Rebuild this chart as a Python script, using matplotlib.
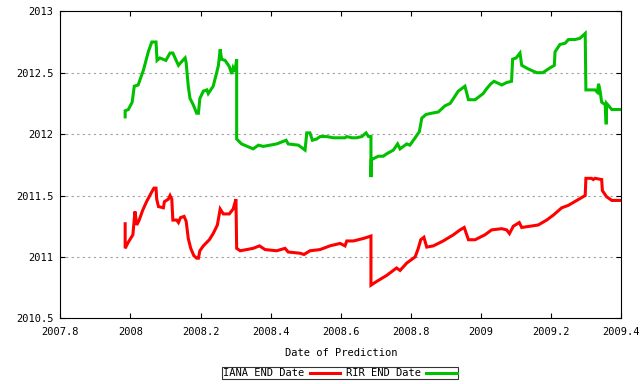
import numpy as np
import matplotlib as mpl
mpl.use('Agg')
import matplotlib.pyplot as plt
from matplotlib.lines import Line2D

# IANA END Date prediction (red)
iana_x = [2007.985, 2007.985, 2007.994, 2008.007, 2008.013, 2008.018, 2008.025, 2008.035,
          2008.046, 2008.061, 2008.067, 2008.073, 2008.075, 2008.080, 2008.094, 2008.097,
          2008.108, 2008.113, 2008.118, 2008.121, 2008.132, 2008.137, 2008.143, 2008.153,
          2008.159, 2008.165, 2008.172, 2008.181, 2008.189, 2008.194, 2008.198, 2008.208,
          2008.225, 2008.236, 2008.248, 2008.256, 2008.265, 2008.282, 2008.293, 2008.301,
          2008.303, 2008.313, 2008.350, 2008.368, 2008.384, 2008.417, 2008.441, 2008.450,
          2008.484, 2008.495, 2008.512, 2008.541, 2008.569, 2008.598, 2008.612, 2008.617,
          2008.636, 2008.664, 2008.686, 2008.686, 2008.702, 2008.731, 2008.759, 2008.769,
          2008.788, 2008.812, 2008.821, 2008.828, 2008.837, 2008.845, 2008.864, 2008.892,
          2008.921, 2008.940, 2008.952, 2008.964, 2008.983, 2009.011, 2009.030, 2009.059,
          2009.073, 2009.081, 2009.092, 2009.109, 2009.116, 2009.140, 2009.163, 2009.187,
          2009.206, 2009.230, 2009.249, 2009.273, 2009.297, 2009.299, 2009.315, 2009.320,
          2009.325, 2009.344, 2009.346, 2009.358, 2009.373, 2009.396]
iana_y = [2011.27, 2011.07, 2011.12, 2011.18, 2011.37, 2011.26, 2011.30, 2011.38,
          2011.45, 2011.53, 2011.56, 2011.56, 2011.47, 2011.41, 2011.40, 2011.45,
          2011.47, 2011.50, 2011.47, 2011.30, 2011.30, 2011.28, 2011.32, 2011.33,
          2011.29, 2011.15, 2011.07, 2011.01, 2010.99, 2010.99, 2011.05, 2011.09,
          2011.14, 2011.19, 2011.26, 2011.39, 2011.35, 2011.35, 2011.39, 2011.47,
          2011.07, 2011.05, 2011.07, 2011.09, 2011.06, 2011.05, 2011.07, 2011.04,
          2011.03, 2011.02, 2011.05, 2011.06, 2011.09, 2011.11, 2011.09, 2011.13,
          2011.13, 2011.15, 2011.17, 2010.77, 2010.80, 2010.85, 2010.91, 2010.89,
          2010.95, 2011.00, 2011.07, 2011.14, 2011.16, 2011.08, 2011.09, 2011.13,
          2011.18, 2011.22, 2011.24, 2011.14, 2011.14, 2011.18, 2011.22, 2011.23,
          2011.22, 2011.19, 2011.25, 2011.28, 2011.24, 2011.25, 2011.26, 2011.30,
          2011.34, 2011.40, 2011.42, 2011.46, 2011.50, 2011.64, 2011.64, 2011.63,
          2011.64, 2011.63, 2011.54, 2011.49, 2011.46, 2011.46]

# RIR END Date prediction (green)
rir_x = [2007.985, 2007.985, 2007.994, 2008.005, 2008.011, 2008.022, 2008.037, 2008.051,
         2008.061, 2008.073, 2008.076, 2008.084, 2008.101, 2008.113, 2008.121, 2008.137,
         2008.146, 2008.156, 2008.159, 2008.165, 2008.170, 2008.179, 2008.189, 2008.194,
         2008.198, 2008.208, 2008.218, 2008.222, 2008.236, 2008.246, 2008.251, 2008.256,
         2008.260, 2008.270, 2008.282, 2008.289, 2008.293, 2008.298, 2008.303, 2008.303,
         2008.317, 2008.350, 2008.365, 2008.379, 2008.417, 2008.444, 2008.450, 2008.479,
         2008.498, 2008.503, 2008.512, 2008.519, 2008.531, 2008.541, 2008.560, 2008.579,
         2008.612, 2008.617, 2008.631, 2008.645, 2008.660, 2008.672, 2008.679, 2008.686,
         2008.686, 2008.687, 2008.693, 2008.707, 2008.721, 2008.731, 2008.750, 2008.762,
         2008.769, 2008.788, 2008.797, 2008.812, 2008.824, 2008.831, 2008.843, 2008.859,
         2008.878, 2008.897, 2008.912, 2008.935, 2008.954, 2008.964, 2008.983, 2009.006,
         2009.016, 2009.028, 2009.037, 2009.059, 2009.073, 2009.087, 2009.090, 2009.100,
         2009.111, 2009.116, 2009.135, 2009.159, 2009.176, 2009.197, 2009.209, 2009.211,
         2009.225, 2009.240, 2009.249, 2009.268, 2009.282, 2009.297, 2009.299, 2009.325,
         2009.332, 2009.335, 2009.339, 2009.344, 2009.354, 2009.357, 2009.358, 2009.373,
         2009.396]
rir_y = [2012.14, 2012.19, 2012.20, 2012.26, 2012.39, 2012.40, 2012.52, 2012.67,
         2012.75, 2012.75, 2012.60, 2012.62, 2012.60, 2012.66, 2012.66, 2012.56,
         2012.59, 2012.62, 2012.58, 2012.39, 2012.29, 2012.24, 2012.17, 2012.17,
         2012.29, 2012.35, 2012.36, 2012.33, 2012.39, 2012.50, 2012.56, 2012.69,
         2012.61, 2012.60, 2012.55, 2012.49, 2012.54, 2012.51, 2012.61, 2011.96,
         2011.92, 2011.88, 2011.91, 2011.90, 2011.92, 2011.95, 2011.92, 2011.91,
         2011.87, 2012.01, 2012.01, 2011.95, 2011.96, 2011.98, 2011.98, 2011.97,
         2011.97, 2011.98, 2011.97, 2011.97, 2011.98, 2012.01, 2011.98, 2011.98,
         2011.65, 2011.79, 2011.80, 2011.82, 2011.82, 2011.84, 2011.87, 2011.92,
         2011.88, 2011.92, 2011.91, 2011.97, 2012.02, 2012.13, 2012.16, 2012.17,
         2012.18, 2012.23, 2012.25, 2012.35, 2012.39, 2012.28, 2012.28, 2012.33,
         2012.37, 2012.41, 2012.43, 2012.40, 2012.42, 2012.43, 2012.61, 2012.62,
         2012.66, 2012.56, 2012.53, 2012.50, 2012.50, 2012.54, 2012.56, 2012.67,
         2012.73, 2012.74, 2012.77, 2012.77, 2012.78, 2012.82, 2012.36, 2012.36,
         2012.34, 2012.41, 2012.36, 2012.26, 2012.24, 2012.08, 2012.25, 2012.20,
         2012.20]

x_ticks = [2007.8, 2008, 2008.2, 2008.4, 2008.6, 2008.8, 2009, 2009.2, 2009.4]
x_labels = ['2007.8', '2008', '2008.2', '2008.4', '2008.6', '2008.8', '2009', '2009.2', '2009.4']
y_ticks = [2010.5, 2011, 2011.5, 2012, 2012.5, 2013]
y_labels = ['2010.5', '2011', '2011.5', '2012', '2012.5', '2013']

plt.rcParams['font.family'] = 'DejaVu Sans Mono'
plt.rcParams['font.size'] = 7.5

fig = plt.figure(figsize=(6.4, 3.84), dpi=100)
ax = fig.add_axes([0.0942, 0.171, 0.8766, 0.7996])

red = '#ff0000'
green = '#00c000'
ax.plot(iana_x, iana_y, color=red, lw=2.2, solid_joinstyle='miter')
ax.plot(rir_x, rir_y, color=green, lw=2.2, solid_joinstyle='miter')

ax.set_xlim(2007.8, 2009.4)
ax.set_ylim(2010.5, 2013)
ax.set_xticks(x_ticks)
ax.set_xticklabels(x_labels)
ax.set_yticks(y_ticks)
ax.set_yticklabels(y_labels)
ax.tick_params(direction='in', length=3.5, width=0.8, top=True, right=True, pad=5, colors='black')
ax.tick_params(axis='x', pad=6)

# gnuplot style: horizontal grid only
for yv in y_ticks[1:-1]:
    ax.axhline(yv, color='#a0a0a0', lw=0.8, linestyle=(0, (2, 3)), zorder=0)

for s in ax.spines.values():
    s.set_linewidth(0.8)
    s.set_color('black')

ax.set_xlabel('Date of Prediction', labelpad=8)

handles = [Line2D([], [], color=red, lw=2.2), Line2D([], [], color=green, lw=2.2)]
leg = fig.legend(handles, ['IANA END Date', 'RIR END Date'], loc='lower center',
                 bbox_to_anchor=(0.531, 0.0), ncol=2, markerfirst=False, frameon=True,
                 fancybox=False, borderpad=0.1, handlelength=2.9, handletextpad=0.5,
                 columnspacing=0.6, borderaxespad=0.45)
leg.get_frame().set_edgecolor('black')
leg.get_frame().set_linewidth(0.8)

fig.savefig('out.png', dpi=100)
